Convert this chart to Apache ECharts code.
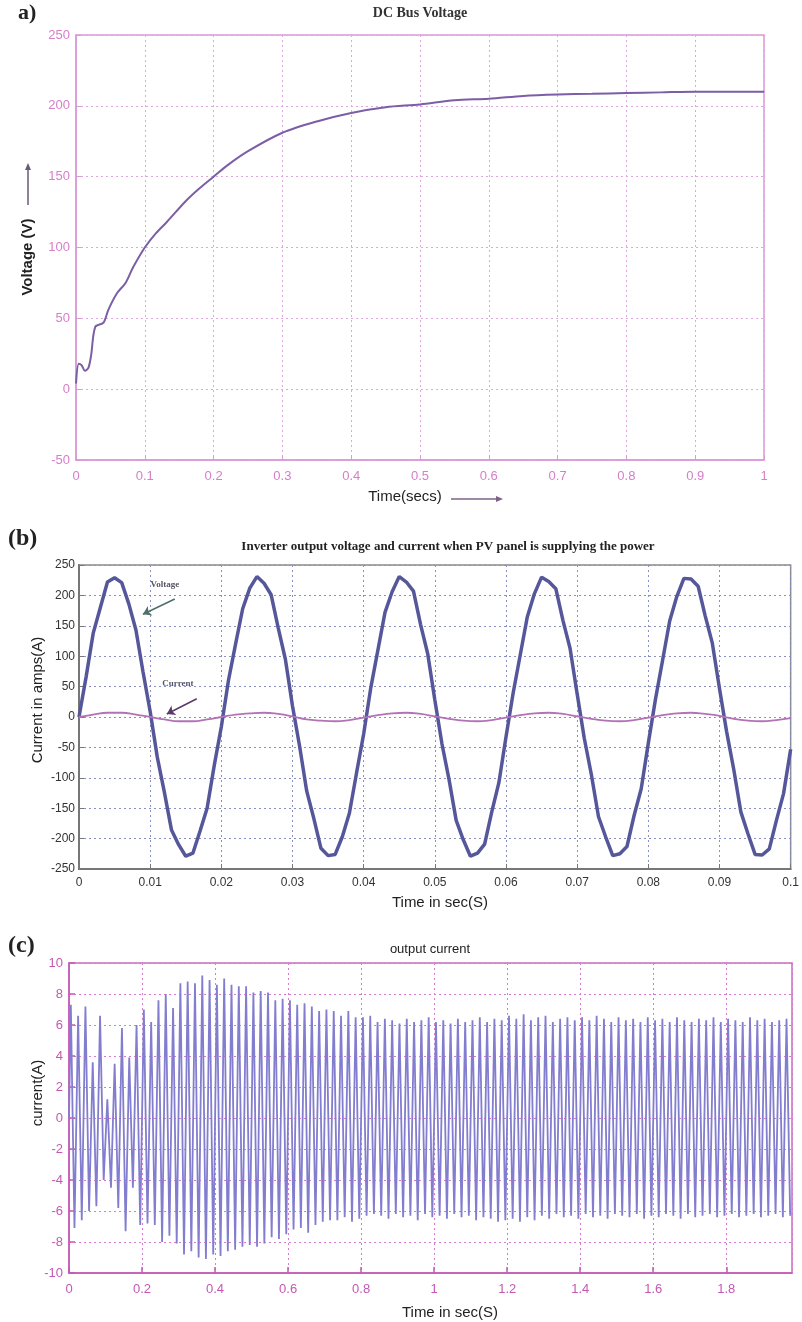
<!DOCTYPE html>
<html><head><meta charset="utf-8">
<script src="https://cdn.jsdelivr.net/npm/echarts@6/dist/echarts.min.js"></script>
<style>html,body{margin:0;padding:0;background:#fff}#c{width:802px;height:1322px}</style>
</head><body><div id="c"></div>
<script>
// ---- Panel (a): DC bus voltage ----
const dcTime = [0,0.004,0.008,0.013,0.018,0.022,0.028,0.04,0.047,0.06,0.072,0.083,0.1,0.116,0.132,0.16,0.18,0.2,0.22,0.25,0.3,0.35,0.4,0.45,0.5,0.55,0.6,0.65,0.7,0.75,0.8,0.85,0.9,0.95,1.0];
const dcVolt = [4,18,17,13,15,24,44,47,56,68,75,86,100,110,118,133,142,150,158,168,181,189,195,199,201,204,205,207,208,208.5,209,209.5,210,210,210];
const aYTicks = [-50,0,50,100,150,200,250];

// ---- Panel (b): inverter voltage / current ----
const bTimeStepV = 0.001;
const bVoltage = [0,66,138,180,222,229,221,186,143,74,9,-66,-124,-186,-210,-229,-224,-188,-150,-80,-16,60,120,178,212,231,220,201,146,95,18,-48,-122,-167,-216,-228,-226,-197,-158,-92,-28,48,110,172,206,231,222,207,152,104,28,-44,-103,-170,-202,-229,-224,-209,-156,-108,-33,39,102,165,203,230,223,211,159,113,38,-35,-95,-164,-197,-228,-225,-213,-162,-118,-43,29,93,158,198,228,227,215,166,121,47,-24,-86,-156,-192,-226,-227,-217,-170,-126,-53];
const bTimeStepI = 0.002;
const bCurrent = [0,4,7,7,4,0,-4,-7,-7,-4,0,4,6,7,5,1,-4,-6,-7,-5,-1,3,6,7,5,1,-3,-6,-7,-5,-1,3,6,7,5,1,-3,-6,-7,-5,-1,3,6,7,5,2,-3,-6,-7,-5,-2];

// ---- Panel (c): output current, per-cycle extremes ----
const cCycle = 0.02;
const cPeaks = [7.3,6.6,7.2,3.6,6.6,1.2,3.5,5.8,3.9,6.0,
 7.0,6.2,7.6,8.0,7.1,8.7,8.8,8.7,9.2,8.9,
 8.6,9.0,8.6,8.5,8.5,8.1,8.2,8.1,7.6,7.7,
 7.6,7.3,7.4,7.2,6.9,7.0,6.9,6.6,6.9,6.5,
 6.5,6.6,6.2,6.4,6.3,6.1,6.4,6.2,6.3,6.5,
 6.2,6.3,6.1,6.4,6.2,6.3,6.5,6.2,6.4,6.3,
 6.6,6.4,6.7,6.3,6.5,6.6,6.2,6.4,6.5,6.3,
 6.5,6.3,6.6,6.4,6.2,6.5,6.3,6.4,6.2,6.5,
 6.3,6.4,6.2,6.5,6.3,6.2,6.4,6.3,6.5,6.2,
 6.4,6.3,6.2,6.5,6.3,6.4,6.2,6.3,6.4];
const cTroughs = [-7.1,-6.6,-6.0,-5.7,-4.0,-4.5,-5.8,-7.3,-4.5,-6.9,
 -6.8,-6.9,-8.0,-7.6,-8.1,-8.8,-8.6,-9.0,-9.1,-8.8,
 -8.9,-8.6,-8.5,-8.3,-8.2,-8.3,-8.1,-7.7,-7.8,-7.5,
 -7.2,-7.1,-7.4,-6.9,-6.7,-6.6,-6.6,-6.4,-6.7,-6.5,
 -6.3,-6.2,-6.3,-6.5,-6.2,-6.4,-6.3,-6.6,-6.2,-6.4,
 -6.3,-6.5,-6.2,-6.4,-6.3,-6.6,-6.4,-6.5,-6.7,-6.6,
 -6.5,-6.7,-6.4,-6.6,-6.3,-6.5,-6.2,-6.4,-6.3,-6.5,
 -6.2,-6.4,-6.3,-6.5,-6.2,-6.3,-6.4,-6.2,-6.5,-6.3,
 -6.4,-6.2,-6.3,-6.5,-6.2,-6.4,-6.3,-6.2,-6.4,-6.3,
 -6.2,-6.4,-6.3,-6.2,-6.4,-6.3,-6.2,-6.4,-6.3];

// ---- build series data ----
const aData = dcTime.map((t,i)=>[t,dcVolt[i]]);
const bVData = bVoltage.map((v,i)=>[+(i*bTimeStepV).toFixed(4),v]);
const bIData = bCurrent.map((v,i)=>[+(i*bTimeStepI).toFixed(4),v]);
const cData = [[0,0]];
cPeaks.forEach((p,k)=>{
  cData.push([+(k*cCycle+cCycle/4).toFixed(4),p]);
  cData.push([+(k*cCycle+3*cCycle/4).toFixed(4),cTroughs[k]]);
});

const chart = echarts.init(document.getElementById('c'),null,{renderer:'canvas'});
const pinkA='#d67ec9', pinkC='#c458b4';
const sans='Liberation Sans, Arial, sans-serif', serif='Liberation Serif, Times New Roman, serif';

function arrowLine(x1,y1,x2,y2,color){
  const ang=Math.atan2(y2-y1,x2-x1), L=7, W=3;
  const bx=x2-L*Math.cos(ang), by=y2-L*Math.sin(ang);
  return [
    {type:'line',shape:{x1,y1,x2:bx,y2:by},style:{stroke:color,lineWidth:1.5},z:20},
    {type:'polygon',shape:{points:[[x2,y2],[bx+W*Math.sin(ang),by-W*Math.cos(ang)],[bx-W*Math.sin(ang),by+W*Math.cos(ang)]]},style:{fill:color},z:20}
  ];
}

const option = {
  animation:false,
  backgroundColor:'#fff',
  grid:[
    {left:76,top:35,width:688,height:425,show:true,borderColor:'#d99ad6',borderWidth:1.5},
    {left:79,top:565,width:713,height:304,show:true,borderColor:'#8a8a8a',borderWidth:1.5},
    {left:69,top:963,width:723,height:310,show:true,borderColor:'#c86cbf',borderWidth:1.5}
  ],
  xAxis:[
    {gridIndex:0,type:'value',min:0,max:1,interval:0.1,
     axisLine:{onZero:false,lineStyle:{color:'#d99ad6',width:1.5}},axisTick:{inside:true,length:5,lineStyle:{color:'#d99ad6'}},
     axisLabel:{color:pinkA,fontFamily:sans,fontSize:13,margin:10},
     splitLine:{show:true,lineStyle:{color:'#dfa8dc',type:[2,3],width:1}}},
    {gridIndex:1,type:'value',min:0,max:0.1,interval:0.01,
     axisLine:{onZero:false,lineStyle:{color:'#777',width:2}},axisTick:{inside:true,length:5,lineStyle:{color:'#777'}},
     axisLabel:{color:'#333',fontFamily:sans,fontSize:12,margin:8,formatter:v=>String(+v.toFixed(2))},
     splitLine:{show:true,lineStyle:{color:'#8a90c0',type:[2,3],width:1}}},
    {gridIndex:2,type:'value',min:0,max:1.98,interval:0.2,
     axisLine:{onZero:false,lineStyle:{color:pinkC,width:1.5}},axisTick:{inside:true,length:6,lineStyle:{color:pinkC,width:1.5}},
     axisLabel:{color:pinkC,fontFamily:sans,fontSize:13,margin:10,showMaxLabel:false,formatter:v=>String(+v.toFixed(1))},
     splitLine:{show:true,lineStyle:{color:'#d77bd0',type:[2,3],width:1}}}
  ],
  yAxis:[
    {gridIndex:0,type:'value',min:aYTicks[0],max:aYTicks[aYTicks.length-1],interval:50,
     axisLine:{onZero:false,lineStyle:{color:'#d99ad6',width:1.5}},axisTick:{inside:true,length:5,lineStyle:{color:'#d99ad6'}},
     axisLabel:{color:pinkA,fontFamily:sans,fontSize:13,margin:6},
     splitLine:{show:true,lineStyle:{color:'#dfa8dc',type:[2,3],width:1}}},
    {gridIndex:1,type:'value',min:-250,max:250,interval:50,
     axisLine:{onZero:false,lineStyle:{color:'#777',width:2}},axisTick:{inside:true,length:5,lineStyle:{color:'#777'}},
     axisLabel:{color:'#333',fontFamily:sans,fontSize:12,margin:4},
     splitLine:{show:true,lineStyle:{color:'#8a90c0',type:[2,3],width:1}}},
    {gridIndex:2,type:'value',min:-10,max:10,interval:2,
     axisLine:{onZero:false,lineStyle:{color:pinkC,width:1.5}},axisTick:{inside:true,length:6,lineStyle:{color:pinkC,width:1.5}},
     axisLabel:{color:pinkC,fontFamily:sans,fontSize:13,margin:6},
     splitLine:{show:true,lineStyle:{color:'#d77bd0',type:[2,3],width:1}}}
  ],
  series:[
    {type:'line',xAxisIndex:0,yAxisIndex:0,data:aData,smooth:0.3,showSymbol:false,
     lineStyle:{color:'#7b5ea6',width:2}},
    {type:'line',xAxisIndex:1,yAxisIndex:1,data:bVData,showSymbol:false,
     lineStyle:{color:'#55579a',width:3.5},z:3,
     markLine:{silent:true,symbol:['none','arrow'],symbolSize:8,label:{show:false},
       lineStyle:{color:'#4f6f6a',width:1.5,type:'solid'},
       data:[[{coord:[0.01346,194]},{coord:[0.00898,169]}],
             [{coord:[0.01655,30],lineStyle:{color:'#5a3a6a'}},{coord:[0.01234,5],lineStyle:{color:'#5a3a6a'}}]]},
     markPoint:{silent:true,symbol:'circle',symbolSize:1,itemStyle:{color:'transparent'},
       label:{show:true,position:'inside',fontFamily:serif,fontSize:9,fontWeight:'bold',color:'#556'},
       data:[{coord:[0.01206,217],value:'Voltage',label:{formatter:'Voltage'}},
             {coord:[0.01389,54],value:'Current',label:{formatter:'Current'}}]}},
    {type:'line',xAxisIndex:1,yAxisIndex:1,data:bIData,smooth:true,showSymbol:false,
     lineStyle:{color:'#b272b6',width:1.8},z:4},
    {type:'line',xAxisIndex:2,yAxisIndex:2,data:cData,showSymbol:false,
     lineStyle:{color:'#837dcf',width:1.8}}
  ],
  graphic:[
    {type:'text',x:18,y:2,style:{text:'a)',font:'bold 22px '+serif,fill:'#222'}},
    {type:'text',x:420,y:6,style:{text:'DC Bus Voltage',font:'bold 14px '+serif,fill:'#333',textAlign:'center'}},
    {type:'text',x:28,y:257,rotation:Math.PI/2,style:{text:'Voltage (V)',font:'bold 15px '+sans,fill:'#222',textAlign:'center',textVerticalAlign:'middle'}},
    ...arrowLine(28,205,28,163,'#6a5a7a'),
    {type:'text',x:405,y:497,style:{text:'Time(secs)',font:'15px '+sans,fill:'#222',textAlign:'center',textVerticalAlign:'middle'}},
    ...arrowLine(451,499,503,499,'#80608a'),

    {type:'text',x:8,y:527,style:{text:'(b)',font:'bold 24px '+serif,fill:'#222'}},
    {type:'text',x:448,y:547,style:{text:'Inverter output voltage and current when PV panel is supplying the power',font:'bold 13px '+serif,fill:'#222',textAlign:'center',textVerticalAlign:'middle'}},
    {type:'text',x:38,y:700,rotation:Math.PI/2,style:{text:'Current in amps(A)',font:'15px '+sans,fill:'#222',textAlign:'center',textVerticalAlign:'middle'}},
    {type:'text',x:440,y:903,style:{text:'Time in sec(S)',font:'15px '+sans,fill:'#222',textAlign:'center',textVerticalAlign:'middle'}},

    {type:'text',x:8,y:934,style:{text:'(c)',font:'bold 24px '+serif,fill:'#222'}},
    {type:'text',x:430,y:949,style:{text:'output current',font:'13px '+sans,fill:'#222',textAlign:'center',textVerticalAlign:'middle'}},
    {type:'text',x:38,y:1093,rotation:Math.PI/2,style:{text:'current(A)',font:'15px '+sans,fill:'#222',textAlign:'center',textVerticalAlign:'middle'}},
    {type:'text',x:450,y:1313,style:{text:'Time in sec(S)',font:'15px '+sans,fill:'#222',textAlign:'center',textVerticalAlign:'middle'}}
  ]
};
chart.setOption(option);
</script></body></html>
